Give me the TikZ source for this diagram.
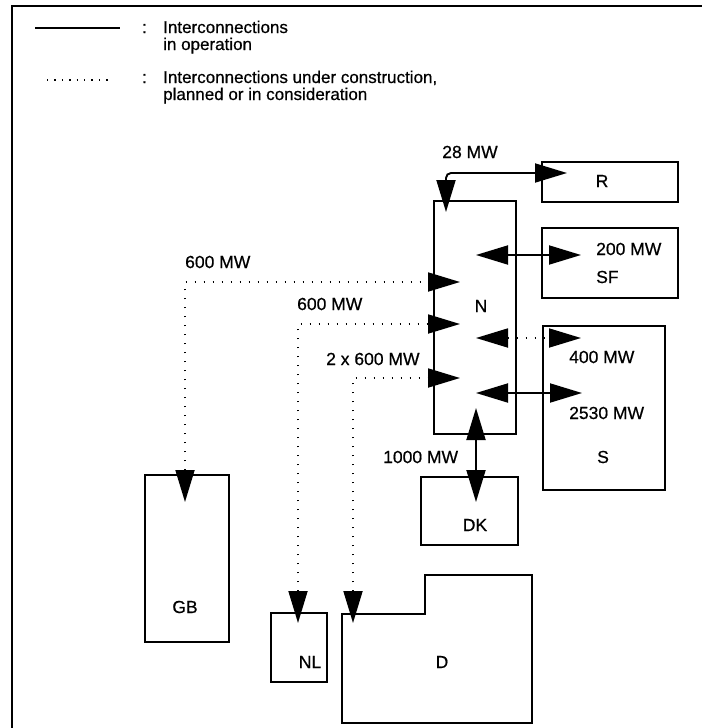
\documentclass[tikz,border=0pt]{standalone}
\usepackage{fontspec}
\setmainfont{Liberation Sans}[FakeBold=0.6]
\usetikzlibrary{arrows.meta,calc}
\begin{document}
\begin{tikzpicture}[x=1pt,y=-1pt,
  >={Triangle[length=32pt,width=19pt]},
  box/.style={draw, line width=1.9pt, inner sep=0pt, outer sep=0pt},
  lab/.style={inner sep=0pt, font=\fontsize{17.5}{20}\selectfont},
  leg/.style={inner sep=0pt, anchor=base west, font=\fontsize{17}{20}\selectfont},
  live/.style={line width=1.9pt},
  plan/.style={line width=1.8pt, dash pattern=on 1.8pt off 7.2pt},
  frame/.style={line width=2.2pt}]
\useasboundingbox (0,0) rectangle (702,728);
% frame
\coordinate (F1) at (12,728);
\coordinate (F2) at (12,6);
\coordinate (F3) at (702,6);
\draw[frame] (F1) -- (F2) -- (F3);
% legend
\coordinate (L1a) at (35,28);
\coordinate (L1b) at (120,28);
\draw[line width=2.5pt] (L1a) -- (L1b);
\coordinate (L2a) at (47,80);
\coordinate (L2b) at (110,80);
\draw[line width=1.4pt, dash pattern=on 1.4pt off 6pt] (L2a) -- (L2b);
\node[leg] (c1) at (142,33) {:};
\node[leg] (t1) at (163,33) {Interconnections};
\node[leg] (t2) at (163,50) {in operation};
\node[leg] (c2) at (142,83) {:};
\node[leg] (t3) at (163,83) {Interconnections under construction,};
\node[leg] (t4) at (163,100) {planned or in consideration};
% boxes
\node[box, minimum width=136pt, minimum height=40pt] (R) at (610,182) {};
\node[box, minimum width=82pt, minimum height=233pt] (N) at (475,317.5) {};
\node[box, minimum width=136pt, minimum height=70pt] (SF) at (610,263) {};
\node[box, minimum width=122pt, minimum height=164pt] (S) at (604,408) {};
\node[box, minimum width=97pt, minimum height=68pt] (DK) at (469.5,511) {};
\node[box, minimum width=84pt, minimum height=167pt] (GB) at (187,558.5) {};
\node[box, minimum width=56pt, minimum height=69pt] (NL) at (299,647.5) {};
\coordinate (Dnw) at (342,614);
\draw[box, line join=miter] (Dnw) -- ++(83,0) -- ++(0,-39) -- ++(107,0) -- ++(0,148) -- ++(-190,0) -- cycle;
% labels in boxes
\node[lab] (Rl) at (602,181) {R};
\node[lab] (Nl) at (481,306) {N};
\node[lab, anchor=west] (SFa) at (596,249) {200 MW};
\node[lab, anchor=west] (SFl) at (596,277) {SF};
\node[lab, anchor=west] (Sa) at (569,357) {400 MW};
\node[lab, anchor=west] (Sb) at (569,413) {2530 MW};
\node[lab] (Sl) at (603,457) {S};
\node[lab] (DKl) at (475,525) {DK};
\node[lab] (GBl) at (185,607) {GB};
\node[lab] (NLl) at (310,662) {NL};
\node[lab] (Dl) at (442,662) {D};
% connector labels
\node[lab] (m28) at (470,152) {28 MW};
\node[lab, anchor=west] (m600a) at (185,262) {600 MW};
\node[lab, anchor=west] (m600b) at (297,304) {600 MW};
\node[lab, anchor=west] (m2x) at (326,359) {2 x 600 MW};
\node[lab, anchor=west] (m1000) at (383,457) {1000 MW};
% connectors in operation
\draw[live, <->, rounded corners=5pt] ($(N.north west)+(12,11)$) |- ($(R.north west)+(25,11)$);
\draw[live, <->] ($(N.north west)+(42,54)$) -- ($(SF.north west)+(39,27)$);
\draw[live, <->] ($(N.north west)+(42,192)$) -- ($(S.north west)+(39,67)$);
\draw[live, <->] ($(N.south west)+(42,-26)$) -- ($(DK.north west)+(55,25)$);
% planned connectors
\draw[plan, <->] ($(N.north west)+(42,137)$) -- ($(S.north west)+(38,12)$);
\draw[plan, <->] ($(GB.north west)+(40,27)$) |- ($(N.north west)+(26,81)$);
\draw[plan, <->] ($(NL.north west)+(27,10)$) |- ($(N.north west)+(26,123)$);
\draw[plan, <->] ($(Dnw)+(11,9)$) |- ($(N.north west)+(26,177)$);
\end{tikzpicture}
\end{document}
